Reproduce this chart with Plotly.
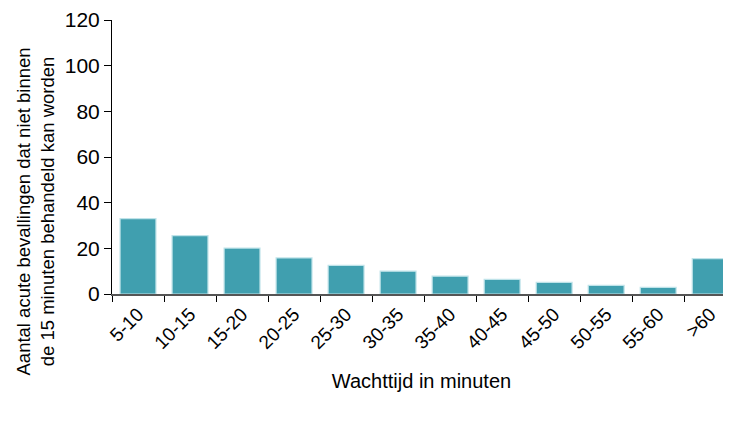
import plotly.graph_objects as go

categories = ['5-10', '10-15', '15-20', '20-25', '25-30', '30-35',
              '35-40', '40-45', '45-50', '50-55', '55-60', '>60']
counts = [33, 25.6, 20.1, 15.8, 12.5, 10, 7.8, 6.4, 5.1, 3.8, 2.9, 15.5]

y_title = "Aantal acute bevallingen dat niet binnen<br>de 15 minuten behandeld kan worden"
x_title = "Wachttijd in minuten"

# page body adds 8px margin, so the figure is 8px smaller than the window
W, H = 723, 425
L, T, B = 104, 12, 139
plot_h = H - T - B

fig = go.Figure()
fig.add_trace(go.Bar(
    x=categories,
    y=counts,
    marker=dict(color='#409FAF', line=dict(color='#BFE3E9', width=1.2)),
    width=0.69,
    showlegend=False,
))

fig.update_layout(
    width=W, height=H,
    margin=dict(l=L, r=0, t=T, b=B),
    plot_bgcolor='white', paper_bgcolor='white',
    font=dict(family='Liberation Sans, Arial', color='black'),
    bargap=0.31,
    xaxis=dict(
        type='category', automargin=False,
        range=[-0.5, 11.4],
        showline=True, linecolor='#555555', linewidth=1.5,
        ticks='outside', tickson='boundaries', ticklen=6, tickcolor='black',
        tickangle=-45, tickfont=dict(size=19), ticklabeloverflow='allow',
        showgrid=False, zeroline=False,
        title=dict(text=x_title, font=dict(size=20), standoff=22),
    ),
    yaxis=dict(
        automargin=False,
        range=[0, 120], dtick=20,
        showline=True, linecolor='black', linewidth=1,
        ticks='outside', ticklen=7, tickcolor='black',
        tickfont=dict(size=21), ticklabeloverflow='allow',
        showgrid=False, zeroline=False,
    ),
    annotations=[dict(
        text=y_title, textangle=-90,
        xref='paper', yref='paper',
        x=(2 - L) / (W - L), xanchor='left',
        y=(H - B - 204) / plot_h, yanchor='middle',
        showarrow=False, font=dict(size=18.5),
    )],
)

fig.write_html("out.html")
